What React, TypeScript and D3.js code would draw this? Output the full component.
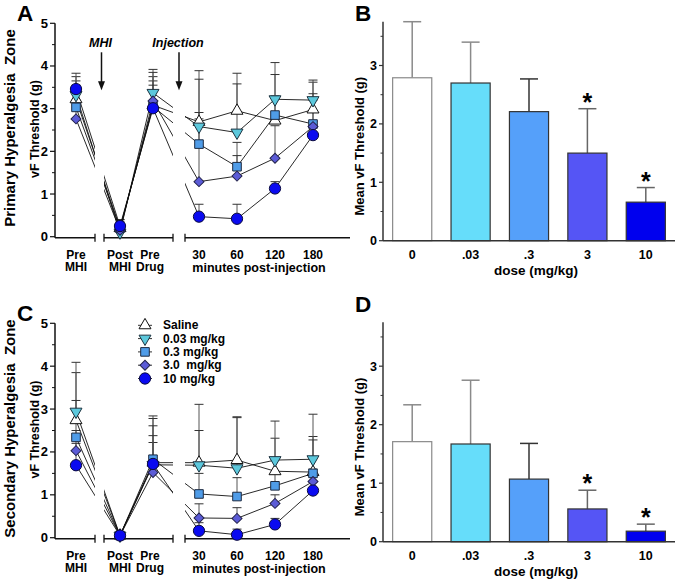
import React from "react";
import * as d3 from "d3";

// ---------- DATA ----------
const timeLabels = ["Pre MHI", "Post MHI", "Pre Drug", "30", "60", "120", "180"];
const seriesNames = ["Saline", "0.03 mg/kg", "0.3 mg/kg", "3.0  mg/kg", "10 mg/kg"];

// Panel A: primary hyperalgesia zone (means)
const primSaline = [3.22, 0.2, 3.08, 2.69, 2.95, 2.72, 2.98];
const primDose003 = [3.32, 0.1, 3.37, 2.58, 2.44, 3.22, 3.2];
const primDose03 = [3.03, 0.2, 3.05, 2.17, 1.64, 2.85, 2.64];
const primDose3 = [2.76, 0.15, 3.18, 1.29, 1.42, 1.84, 2.58];
const primDose10 = [3.46, 0.25, 3.01, 0.47, 0.42, 1.13, 2.38];
// Panel A SEM
const primSalineSem = [0.43, 0.15, 0.67, 1.2, 0.88, 0.58, 0.64];
const primDose003Sem = [0.43, 0.2, 0.55, 1.11, 1.14, 0.86, 0.47];
const primDose03Sem = [0.52, 0.2, 0.6, 0.74, 0.57, 0.95, 0.71];
const primDose3Sem = [0.44, 0.15, 0.67, 1.47, 0.48, 0.76, 0.62];
const primDose10Sem = [0.37, 0.15, 0.54, 0.29, 0.34, 0.16, 0.32];

// Panel C: secondary hyperalgesia zone (means)
const secSaline = [2.74, 0.05, 1.75, 1.75, 1.81, 1.55, 1.53];
const secDose003 = [2.94, 0.05, 1.7, 1.69, 1.62, 1.81, 1.83];
const secDose03 = [2.34, 0.05, 1.83, 1.02, 0.96, 1.21, 1.5];
const secDose3 = [2.03, 0.05, 1.52, 0.46, 0.45, 0.8, 1.31];
const secDose10 = [1.69, 0.05, 1.72, 0.16, 0.07, 0.31, 1.1];
// Panel C SEM
const secSalineSem = [1.11, 0.05, 1.09, 1.36, 1.01, 0.77, 0.83];
const secDose003Sem = [1.15, 0.05, 1.08, 0.81, 1.18, 0.91, 1.05];
const secDose03Sem = [0.86, 0.05, 0.78, 0.48, 0.44, 0.29, 0.78];
const secDose3Sem = [0.47, 0.05, 0.7, 0.33, 0.25, 0.2, 0.29];
const secDose10Sem = [0.51, 0.05, 0.66, 0.19, 0.13, 0.14, 0.2];

// Bar panels
const doses = ["0", ".03", ".3", "3", "10"];
const barMeanB = [2.79, 2.7, 2.21, 1.5, 0.66];
const barSemB = [0.96, 0.7, 0.56, 0.76, 0.25];
const barMeanD = [1.71, 1.67, 1.07, 0.56, 0.18];
const barSemD = [0.63, 1.09, 0.61, 0.32, 0.12];
const significant = [false, false, false, true, true];

const yTicksLine = [0, 1, 2, 3, 4, 5];
const yTicksBar = [0, 1, 2, 3];

// ---------- STYLE ----------
const FONT = "'Liberation Sans', Arial, Helvetica, sans-serif";
const markerFill = ["#ffffff", "#5cc8dc", "#4f9ce8", "#5b5bd6", "#0a0af0"];
const markerStroke = ["#111", "#1d3340", "#1d2a40", "#22224a", "#0a0a40"];
const barFill = ["#ffffff", "#66ddfa", "#55a0fa", "#5555f5", "#0000ee"];
const barStroke = ["#8a8a8a", "#333", "#333", "#333", "#333"];
const barErrColor = ["#8a8a8a", "#8a8a8a", "#333", "#666", "#666"];

const symPaths = [
  d3.symbol(d3.symbolTriangle, 62)()!,
  d3.symbol(d3.symbolTriangle, 62)()!,
  d3.symbol(d3.symbolSquare, 74)()!,
  d3.symbol(d3.symbolSquare, 50)()!,
  d3.symbol(d3.symbolCircle, 100)()!,
];
const symRot = [0, 180, 0, 45, 0];

function Marker({ k, x, y }: { k: number; x: number; y: number }) {
  return (
    <path
      d={symPaths[k]}
      transform={`translate(${x},${y}) rotate(${symRot[k]})`}
      fill={markerFill[k]}
      stroke={markerStroke[k]}
      strokeWidth={1}
    />
  );
}

// x layout shared by panels A and C
const axisLeft = 55;
const segments: [number, number][] = [
  [axisLeft, 95],
  [104, 173],
  [185, 350],
];
const seg1 = d3.scalePoint<string>().domain(timeLabels.slice(0, 1)).range([76, 76]);
const seg2 = d3.scalePoint<string>().domain(timeLabels.slice(1, 3)).range([120, 153]);
const seg3 = d3.scalePoint<string>().domain(timeLabels.slice(3)).range([199, 313]);
const xPos = (i: number) => {
  const l = timeLabels[i];
  if (i < 1) return seg1(l)!;
  if (i < 3) return seg2(l)!;
  return seg3(l)!;
};

function LinePanel({
  id,
  top,
  bottom,
  means,
  sems,
  letter,
  title,
  legend,
  arrows,
}: {
  id: string;
  top: number;
  bottom: number;
  means: number[][];
  sems: number[][];
  letter: string;
  title: string;
  legend?: boolean;
  arrows?: boolean;
}) {
  const y = d3.scaleLinear().domain([0, 5]).range([bottom, top]);
  const line = d3
    .line<number>()
    .x((_, i) => xPos(i))
    .y((d) => y(d));
  const axisY = bottom + 1;
  const minor = d3.range(0.5, 5, 1);
  const mid = (top + bottom) / 2;
  return (
    <g>
      <defs>
        <clipPath id={`clip-${id}`}>
          {segments.map((s, i) => (
            <rect key={i} x={s[0]} y={top - 20} width={s[1] - s[0]} height={bottom - top + 40} />
          ))}
        </clipPath>
      </defs>
      {/* panel letter */}
      <text x={17} y={top - 2} fontSize={22.5} fontWeight="bold" fontFamily={FONT}>
        {letter}
      </text>
      {/* y titles */}
      <text
        transform={`translate(15,${mid - 2}) rotate(-90)`}
        textAnchor="middle"
        fontSize={15}
        fontWeight="bold"
        fontFamily={FONT}
        style={{ whiteSpace: "pre" }}
      >
        {title}
      </text>
      <text
        transform={`translate(39,${mid - 1}) rotate(-90)`}
        textAnchor="middle"
        fontSize={12.5}
        fontWeight="bold"
        fontFamily={FONT}
      >
        vF Threshold (g)
      </text>
      {/* y axis */}
      <line x1={axisLeft} x2={axisLeft} y1={top} y2={axisY} stroke="#111" strokeWidth={1.5} />
      {yTicksLine.map((t) => (
        <g key={t}>
          <line x1={axisLeft - 5} x2={axisLeft} y1={y(t)} y2={y(t)} stroke="#111" strokeWidth={1.2} />
          <text
            x={axisLeft - 7}
            y={y(t) + 4.5}
            textAnchor="end"
            fontSize={13}
            fontWeight="bold"
            fontFamily={FONT}
          >
            {t}
          </text>
        </g>
      ))}
      {minor.map((t) => (
        <line key={t} x1={axisLeft - 3} x2={axisLeft} y1={y(t)} y2={y(t)} stroke="#111" strokeWidth={1} />
      ))}
      {/* x axis segments */}
      {segments.map((s, i) => (
        <g key={i}>
          <line x1={s[0]} x2={s[1]} y1={axisY} y2={axisY} stroke="#111" strokeWidth={1.5} />
          {i > 0 && <line x1={s[0]} x2={s[0]} y1={axisY - 4} y2={axisY + 4} stroke="#111" strokeWidth={1.3} />}
          {i < segments.length - 1 && (
            <line x1={s[1]} x2={s[1]} y1={axisY - 4} y2={axisY + 4} stroke="#111" strokeWidth={1.3} />
          )}
        </g>
      ))}
      {/* x tick labels */}
      {timeLabels.map((l, i) => {
        const parts = i < 3 ? [l.split(" ")[0], l.split(" ")[1]] : [l];
        return (
          <text
            key={l}
            x={xPos(i)}
            y={axisY + 21}
            textAnchor="middle"
            fontSize={12}
            fontWeight="bold"
            fontFamily={FONT}
          >
            {parts.map((p, j) => (
              <tspan key={j} x={xPos(i) + (i === 2 ? -3 : 0)} dy={j === 0 ? 0 : 12.5}>
                {p}
              </tspan>
            ))}
          </text>
        );
      })}
      <text
        x={(xPos(3) + xPos(6)) / 2 + 3}
        y={axisY + 34.5}
        textAnchor="middle"
        fontSize={12.5}
        fontWeight="bold"
        fontFamily={FONT}
      >
        minutes post-injection
      </text>
      {/* error bars */}
      {means.map((ser, k) =>
        ser.map((m, i) => (
          <g key={`e${k}-${i}`}>
            <line x1={xPos(i)} x2={xPos(i)} y1={y(m)} y2={y(m + sems[k][i])} stroke="#555" strokeWidth={1} />
            <line
              x1={xPos(i) - 4.5}
              x2={xPos(i) + 4.5}
              y1={y(m + sems[k][i])}
              y2={y(m + sems[k][i])}
              stroke="#333"
              strokeWidth={1}
            />
          </g>
        ))
      )}
      {/* lines */}
      <g clipPath={`url(#clip-${id})`}>
        {means.map((ser, k) => (
          <path key={k} d={line(ser)!} fill="none" stroke="#111" strokeWidth={0.9} />
        ))}
      </g>
      {/* markers */}
      {means.map((ser, k) => ser.map((m, i) => <Marker key={`m${k}-${i}`} k={k} x={xPos(i)} y={y(m)} />))}
      {arrows && (
        <g>
          {[
            { label: "MHI", x: (segments[0][1] + segments[1][0]) / 2 + 2 },
            { label: "Injection", x: (segments[1][1] + segments[2][0]) / 2 },
          ].map((a) => (
            <g key={a.label}>
              <text
                x={a.x - 1}
                y={top + 24}
                textAnchor="middle"
                fontSize={12.5}
                fontWeight="bold"
                fontStyle="italic"
                fontFamily={FONT}
              >
                {a.label}
              </text>
              <line x1={a.x} x2={a.x} y1={top + 29} y2={top + 60} stroke="#111" strokeWidth={1.5} />
              <path
                d={`M${a.x - 3.5},${top + 58} L${a.x + 3.5},${top + 58} L${a.x},${top + 67} Z`}
                fill="#111"
              />
            </g>
          ))}
        </g>
      )}
      {legend && (
        <g>
          {seriesNames.map((n, k) => {
            const ly = top + 2 + k * 13.3;
            return (
              <g key={n}>
                <line x1={138} x2={152} y1={ly} y2={ly} stroke="#333" strokeWidth={1} />
                <Marker k={k} x={145} y={ly} />
                <text
                  x={163}
                  y={ly + 4}
                  fontSize={12}
                  fontWeight="bold"
                  fontFamily={FONT}
                  style={{ whiteSpace: "pre" }}
                >
                  {n}
                </text>
              </g>
            );
          })}
        </g>
      )}
    </g>
  );
}

function BarPanel({
  yTop,
  bottom,
  means,
  sems,
  letter,
}: {
  yTop: number;
  bottom: number;
  means: number[];
  sems: number[];
  letter: string;
}) {
  const left = 383;
  const right = 675;
  const y = d3.scaleLinear().domain([0, 3.75]).range([bottom, yTop]);
  const x = d3.scaleBand<string>().domain(doses).range([left, right]).paddingInner(0.33).paddingOuter(0.165);
  const minor = d3.range(0.5, 3.75, 1);
  const mid = (yTop + bottom) / 2;
  return (
    <g>
      <text x={355} y={letter === "B" ? 21 : yTop - 10} fontSize={22.5} fontWeight="bold" fontFamily={FONT}>
        {letter}
      </text>
      <text
        transform={`translate(364,${mid + 15}) rotate(-90)`}
        textAnchor="middle"
        fontSize={13}
        fontWeight="bold"
        fontFamily={FONT}
      >
        Mean vF Threshold (g)
      </text>
      {doses.map((d, i) => {
        const x0 = x(d)!;
        const bw = x.bandwidth();
        const cx = x0 + bw / 2;
        const top = y(means[i] + sems[i]);
        return (
          <g key={d}>
            <line x1={cx} x2={cx} y1={y(means[i])} y2={top} stroke={barErrColor[i]} strokeWidth={1.5} />
            <line x1={cx - 9} x2={cx + 9} y1={top} y2={top} stroke={barErrColor[i]} strokeWidth={1.5} />
            <rect
              x={x0}
              y={y(means[i])}
              width={bw}
              height={y(0) - y(means[i])}
              fill={barFill[i]}
              stroke={barStroke[i]}
              strokeWidth={1.2}
            />
            {significant[i] && (
              <text x={cx} y={top + 2} textAnchor="middle" fontSize={25} fontWeight="bold" fontFamily={FONT}>
                *
              </text>
            )}
            <text
              x={cx}
              y={bottom + 18}
              textAnchor="middle"
              fontSize={12.5}
              fontWeight="bold"
              fontFamily={FONT}
            >
              {d}
            </text>
          </g>
        );
      })}
      <line x1={left} x2={left} y1={yTop} y2={bottom} stroke="#333" strokeWidth={1.5} />
      <line x1={left} x2={right} y1={bottom} y2={bottom} stroke="#333" strokeWidth={1.5} />
      {yTicksBar.map((t) => (
        <g key={t}>
          <line x1={left - 4} x2={left} y1={y(t)} y2={y(t)} stroke="#333" strokeWidth={1.2} />
          <text x={left - 6} y={y(t) + 4.5} textAnchor="end" fontSize={12.5} fontWeight="bold" fontFamily={FONT}>
            {t}
          </text>
        </g>
      ))}
      {minor.map((t) => (
        <line key={t} x1={left - 2.5} x2={left} y1={y(t)} y2={y(t)} stroke="#333" strokeWidth={1} />
      ))}
      <text
        x={(left + right) / 2 + 7}
        y={bottom + 34.5}
        textAnchor="middle"
        fontSize={13.5}
        fontWeight="bold"
        fontFamily={FONT}
      >
        dose (mg/kg)
      </text>
    </g>
  );
}

export default function App() {
  const primMeans = [primSaline, primDose003, primDose03, primDose3, primDose10];
  const primSems = [primSalineSem, primDose003Sem, primDose03Sem, primDose3Sem, primDose10Sem];
  const secMeans = [secSaline, secDose003, secDose03, secDose3, secDose10];
  const secSems = [secSalineSem, secDose003Sem, secDose03Sem, secDose3Sem, secDose10Sem];
  return (
    <svg
      width={677}
      height={580}
      style={{ position: "absolute", left: 0, top: 0, background: "#fff" }}
      xmlns="http://www.w3.org/2000/svg"
    >
      <rect width={677} height={580} fill="#fff" />
      <LinePanel
        id="a"
        top={23.3}
        bottom={236.7}
        means={primMeans}
        sems={primSems}
        letter="A"
        title={"Primary Hyperalgesia  Zone"}
        arrows
      />
      <LinePanel
        id="c"
        top={323.3}
        bottom={537.7}
        means={secMeans}
        sems={secSems}
        letter="C"
        title={"Secondary Hyperalgesia  Zone"}
        legend
      />
      <BarPanel yTop={21.7} bottom={240.7} means={barMeanB} sems={barSemB} letter="B" />
      <BarPanel yTop={322.3} bottom={541.7} means={barMeanD} sems={barSemD} letter="D" />
    </svg>
  );
}
